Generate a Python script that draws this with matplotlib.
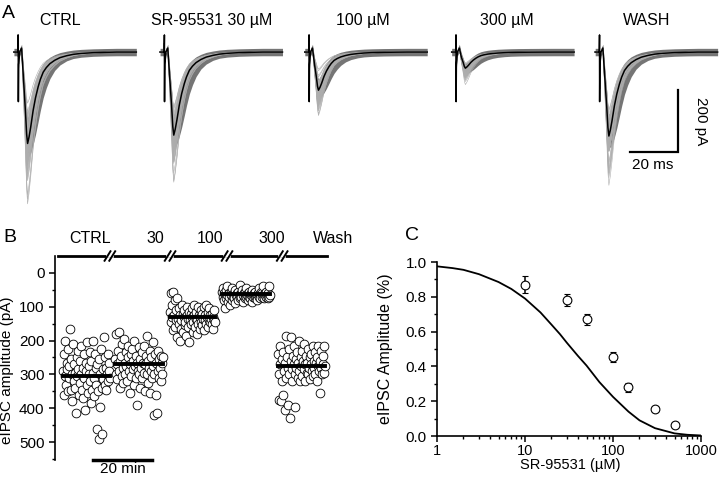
import numpy as np
import matplotlib
matplotlib.use('Agg')
import matplotlib.pyplot as plt
from matplotlib.ticker import MultipleLocator, FixedLocator, FixedFormatter, LogLocator, NullFormatter

plt.rcParams['font.family'] = ['Liberation Sans', 'DejaVu Sans']

# ---------------- data ----------------
# panel A: normalised eIPSC waveform (peak = -1), the slow edge of the sweep cloud, and the stimulus artefact (pA)
trace_t = [0, 1.7, 1.8, 1.85, 1.95, 2.4, 3.2, 4.0, 4.8, 5.3, 5.7, 6.3, 7.0, 8.0, 9.0, 10.1,
           11.0, 12.2, 13.5, 15.0, 17.0, 19.2, 22.0, 24.7, 28.0, 33.0, 38.0, 42.8, 51.0]
trace_shape = [0, 0, 0, 0, 0, 0, 0, -0.3, -0.65, -0.9, -1.0, -0.93, -0.82, -0.64, -0.5, -0.38,
               -0.3, -0.22, -0.17, -0.127, -0.09, -0.061, -0.04, -0.025, -0.015, -0.007, -0.003, 0, 0]
slow_shape = [0, 0, 0, 0, 0, 0, 0, -0.25, -0.6, -0.9, -1.05, -1.1, -1.06, -0.97, -0.86, -0.72,
              -0.6, -0.46, -0.35, -0.25, -0.16, -0.1, -0.055, -0.03, -0.016, -0.006, -0.002, 0, 0]
artifact = [0, 0, 55, -160, -40, 0, 13, 0, 0, 0, 0, 0, 0, 0, 0, 0,
            0, 0, 0, 0, 0, 0, 0, 0, 0, 0, 0, 0, 0]
trace_titles = ['CTRL', 'SR-95531 30 µM', '100 µM', '300 µM', 'WASH']
trace_mean_amp = [295, 268, 123, 52, 271]

# panel B: eIPSC amplitudes (pA) per condition
b_labels = ['CTRL', '30', '100', '300', 'Wash']
ctrl = [290, 240, 360, 200, 305, 330, 265, 285, 350, 225, 310, 275, 165, 345, 255, 300, 380, 210, 320, 270,
        295, 340, 415, 250, 305, 285, 230, 360, 325, 260, 215, 300, 345, 280, 370, 240, 310, 405, 265, 290,
        330, 205, 355, 275, 300, 235, 320, 385, 260, 345, 295, 200, 310, 365, 240, 280, 330, 460, 270, 350,
        490, 255, 300, 395, 225, 340, 475, 285, 315, 190, 250, 330, 280, 345, 300, 240, 320, 265, 290, 310]
sr30 = [255, 300, 180, 270, 315, 230, 290, 175, 340, 260, 245, 305, 210, 280, 325, 195, 265, 300, 235, 275,
        320, 250, 215, 290, 355, 270, 240, 305, 225, 285, 260, 330, 200, 275, 310, 245, 390, 265, 290, 220,
        300, 255, 340, 280, 235, 310, 265, 295, 215, 350, 270, 245, 185, 300, 325, 260, 280, 230, 355, 290,
        250, 310, 205, 275, 420, 300, 240, 360, 265, 415, 290, 230, 310, 255, 280, 245, 320, 265, 300, 250]
sr100 = [115, 60, 145, 95, 130, 170, 55, 125, 160, 80, 140, 110, 190, 75, 135, 150, 105, 200, 125, 165,
         140, 95, 120, 175, 130, 110, 155, 145, 185, 125, 100, 135, 160, 115, 205, 140, 120, 150, 105, 130,
         175, 145, 95, 125, 160, 135, 115, 180, 140, 100, 150, 125, 165, 130, 110, 145, 120, 155, 135, 100,
         170, 125, 140, 95, 150, 130, 115, 160, 140, 105, 145, 125, 135, 150, 120, 165, 130, 110, 140, 145]
sr300 = [55, 70, 45, 80, 60, 105, 50, 75, 65, 40, 85, 60, 70, 95, 55, 65, 80, 45, 70, 60,
         75, 50, 90, 65, 60, 70, 55, 80, 65, 35, 75, 60, 70, 50, 85, 65, 60, 75, 55, 70,
         45, 65, 80, 60, 70, 55, 75, 65, 60, 85, 50, 70, 65, 60, 75, 55, 70, 65, 80, 60,
         45, 70, 65, 75, 55, 60, 70, 65, 40, 75, 60, 65, 70, 55, 65, 75, 60, 40, 70, 65]
wash = [240, 375, 300, 215, 270, 380, 255, 320, 360, 235, 290, 405, 265, 185, 310, 250, 390, 280, 225, 300,
        430, 260, 190, 285, 320, 245, 270, 215, 395, 300, 255, 280, 235, 310, 265, 200, 290, 320, 250, 275,
        230, 305, 260, 285, 210, 320, 270, 245, 295, 265, 225, 300, 280, 250, 315, 240, 270, 290, 215, 305,
        260, 280, 235, 300, 265, 320, 250, 275, 215, 290, 355, 260, 280, 230, 300, 270, 245, 295, 215, 275]
b_groups = [ctrl, sr30, sr100, sr300, wash]
b_means = [305, 269, 130, 62, 275]
b_start = [2.7, 20.3, 39.0, 56.6, 75.6]   # min
b_end = [18.6, 36.6, 54.2, 72.9, 91.5]

# panel C: concentration-response
conc = [10, 30, 50, 100, 150, 300, 500]
amp = [0.87, 0.78, 0.67, 0.455, 0.28, 0.155, 0.065]
amp_err = [0.05, 0.035, 0.03, 0.03, 0.025, 0.012, 0.01]
fit_x = [1, 1.5, 2, 3, 5, 7, 10, 15, 20, 25, 30, 40, 50, 70, 100, 150, 200, 300, 500, 700, 1000]
fit_y = [0.975, 0.965, 0.955, 0.93, 0.885, 0.845, 0.79, 0.71, 0.64, 0.585, 0.535, 0.46, 0.405, 0.31, 0.225,
         0.14, 0.09, 0.045, 0.015, 0.007, 0.003]

# ---------------- figure ----------------
fig = plt.figure(figsize=(7.2, 4.8), dpi=100)

# ---- panel A ----
axA = fig.add_axes([0, 1 - 220 / 480, 1, 220 / 480])
axA.set_xlim(0, 300)
axA.set_ylim(-542, 168)
axA.set_axis_off()

t = np.array(trace_t)
shape = np.array(trace_shape)
slow = np.array(slow_shape)
art = np.array(artifact)
offsets = [5.8, 66.7, 127.0, 188.2, 248.0]
title_x = [25, 88.3, 151.3, 211.3, 269.6]
for i in range(5):
    amps = np.array(b_groups[i])
    x = t + offsets[i]
    for a in amps:
        axA.plot(x, art + a * shape, color='0.68', lw=0.4)
    lo = np.percentile(amps, 10)
    axA.fill_between(x, art + lo * shape + 12, art + trace_mean_amp[i] * slow - 12, color='0.46', lw=0)
    axA.plot(x, art + trace_mean_amp[i] * shape, color='black', lw=1.1)
    axA.text(title_x[i], 103, trace_titles[i], ha='center', va='center', fontsize=11.5)

# scale bars
axA.plot([262.5, 282.5, 282.5], [-322.6, -322.6, -122.6], color='black', lw=1.6, solid_joinstyle='miter')
axA.text(289, -222, '200 pA', rotation=270, ha='left', va='center', fontsize=11)
axA.text(272, -365, '20 ms', ha='center', va='center', fontsize=11)

# ---- panel B ----
axB = fig.add_axes([55 / 720, 1 - 460 / 480, 275 / 720, 204 / 480])
axB.set_xlim(0, 93.2)
axB.set_ylim(553, -50)
for i in range(5):
    vals = b_groups[i]
    xs = np.linspace(b_start[i], b_end[i], len(vals))
    axB.plot(xs, vals, 'o', mfc='white', mec='black', mew=0.6, ms=6.3, zorder=2)
    axB.plot([b_start[i], b_end[i]], [b_means[i], b_means[i]], color='black', lw=2.8, zorder=3)

for s in ['top', 'right', 'bottom']:
    axB.spines[s].set_visible(False)
axB.spines['left'].set_linewidth(1.2)
axB.set_xticks([])
axB.yaxis.set_major_locator(FixedLocator([0, 100, 200, 300, 400, 500]))
axB.yaxis.set_minor_locator(FixedLocator([50, 150, 250, 350, 450, 550]))
axB.tick_params(axis='y', which='major', direction='out', length=4, width=1.1, labelsize=11)
axB.tick_params(axis='y', which='minor', direction='out', length=2.5, width=1)
axB.set_ylabel('eIPSC amplitude (pA)', fontsize=11)
axB.yaxis.set_label_coords(-0.15, 0.44)

# condition bar with breaks
axB.plot([1, 92.2], [-50, -50], color='black', lw=2, clip_on=False, zorder=4)
for bx in [18.6, 39.0, 58.3, 77.0]:
    axB.plot([bx - 0.6, bx + 0.6], [-50, -50], color='white', lw=2.6, clip_on=False, zorder=4.5)
    for dx in [-0.8, 0.8]:
        axB.plot([bx + dx - 1.0, bx + dx + 1.0], [-36, -64], color='black', lw=1.4, clip_on=False, zorder=5)
label_x = [11.9, 33.9, 52.5, 73.6, 94.2]
for lx, lab in zip(label_x, b_labels):
    axB.text(lx, -103, lab, ha='center', va='center', fontsize=11.5, clip_on=False)

# 20 min scale bar
axB.plot([12.9, 32.9], [553, 553], color='black', lw=2.5, clip_on=False)
axB.text(22.9, 580, '20 min', ha='center', va='center', fontsize=11, clip_on=False)

# ---- panel C ----
axC = fig.add_axes([437 / 720, 1 - 436 / 480, 264 / 720, 174 / 480])
axC.set_xscale('log')
axC.set_xlim(1, 1000)
axC.set_ylim(0, 1.0)
axC.plot(fit_x, fit_y, color='black', lw=1.3)
axC.errorbar(conc, amp, yerr=amp_err, fmt='o', mfc='white', mec='black', mew=0.8, ms=6.3,
             ecolor='black', elinewidth=1.1, capsize=2.5, capthick=1.1, clip_on=False, zorder=3)
for s in ['top', 'right']:
    axC.spines[s].set_visible(False)
axC.spines['left'].set_linewidth(1.2)
axC.spines['bottom'].set_linewidth(1.2)
axC.xaxis.set_major_locator(FixedLocator([1, 10, 100, 1000]))
axC.xaxis.set_major_formatter(FixedFormatter(['1', '10', '100', '1000']))
axC.xaxis.set_minor_locator(LogLocator(base=10, subs=np.arange(2, 10)))
axC.xaxis.set_minor_formatter(NullFormatter())
axC.yaxis.set_major_locator(MultipleLocator(0.2))
axC.yaxis.set_minor_locator(MultipleLocator(0.1))
axC.yaxis.set_major_formatter(matplotlib.ticker.FormatStrFormatter('%.1f'))
axC.tick_params(which='major', direction='out', length=4, width=1.1, labelsize=11)
axC.tick_params(axis='x', which='major', labelsize=10.5, pad=2)
axC.tick_params(which='minor', direction='out', length=2.5, width=1)
axC.set_ylabel('eIPSC Amplitude (%)', fontsize=11.5)
axC.yaxis.set_label_coords(-0.167, 0.5)
axC.set_xlabel('SR-95531 (µM)', fontsize=10.5)
axC.xaxis.set_label_coords(0.504, -0.128)

# panel letters
fig.text(2 / 720, 1 - 13 / 480, 'A', fontsize=14, va='center')
fig.text(3 / 720, 1 - 238 / 480, 'B', fontsize=14, va='center')
fig.text(405 / 720, 1 - 236 / 480, 'C', fontsize=14, va='center')

fig.savefig('out.png', dpi=100)
